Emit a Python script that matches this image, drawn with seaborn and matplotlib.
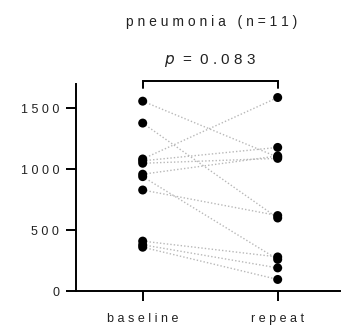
import matplotlib
matplotlib.use("Agg")
import matplotlib.pyplot as plt
import seaborn as sns
import pandas as pd
import numpy as np

sns.set_theme(style="ticks")
plt.rcParams["font.family"] = ["Liberation Sans", "DejaVu Sans"]

# paired measurements per patient
categories = ["baseline", "repeat"]
baseline = [1560, 1380, 1085, 1070, 1050, 960, 940, 830, 410, 380, 360]
repeat = [1100, 600, 1590, 1180, 1090, 1110, 260, 620, 280, 190, 95]
y_ticks = [0, 500, 1000, 1500]
title = "pneumonia (n=11)"
p_value = 0.083


def spaced(s):
    return " ".join(s)


n = len(baseline)
df = pd.DataFrame({
    "subject": list(range(n)) * 2,
    "timepoint": [0] * n + [1] * n,
    "value": baseline + repeat,
})

fig = plt.figure(figsize=(3.45, 3.31), dpi=100)
ax = fig.add_axes([0.2203, 0.1208, 0.765, 0.625])

sns.lineplot(data=df, x="timepoint", y="value", units="subject", estimator=None,
             color="#b8b8b8", linestyle=(0, (1, 1.5)), linewidth=1.0, ax=ax,
             legend=False)
sns.scatterplot(data=df, x="timepoint", y="value", color="black", s=42,
                edgecolor="none", ax=ax, legend=False, zorder=3)

ax.set_xlim(-0.494, 1.461)
ax.set_ylim(0, 1700)
ax.set_xticks([0, 1])
ax.set_xticklabels([spaced(c) for c in categories], fontsize=9)
ax.set_yticks(y_ticks)
ax.set_yticklabels([spaced(str(t)) for t in y_ticks], fontsize=9)
ax.set_xlabel("")
ax.set_ylabel("")
sns.despine(ax=ax)
for side in ["left", "bottom"]:
    ax.spines[side].set_linewidth(1.4)
    ax.spines[side].set_color("black")
ax.tick_params(axis="both", length=7, width=1.4, colors="black", labelcolor="#222222")
ax.tick_params(axis="y", pad=5)
ax.tick_params(axis="x", pad=9)

# significance bracket
yb, yt = 1669, 1727
ax.plot([0, 0, 1, 1], [yb, yt, yt, yb], color="black", linewidth=1.4,
        clip_on=False, solid_joinstyle="miter")
ax.text(0.5, 1895, "$p$" + "  =  " + spaced(f"{p_value:.3f}"), ha="center",
        va="center", fontsize=11, color="#222222", clip_on=False)

fig.text(0.612, 0.935, spaced(title), ha="center", va="center", fontsize=10,
         color="#222222")

fig.savefig("out.png", dpi=100)
